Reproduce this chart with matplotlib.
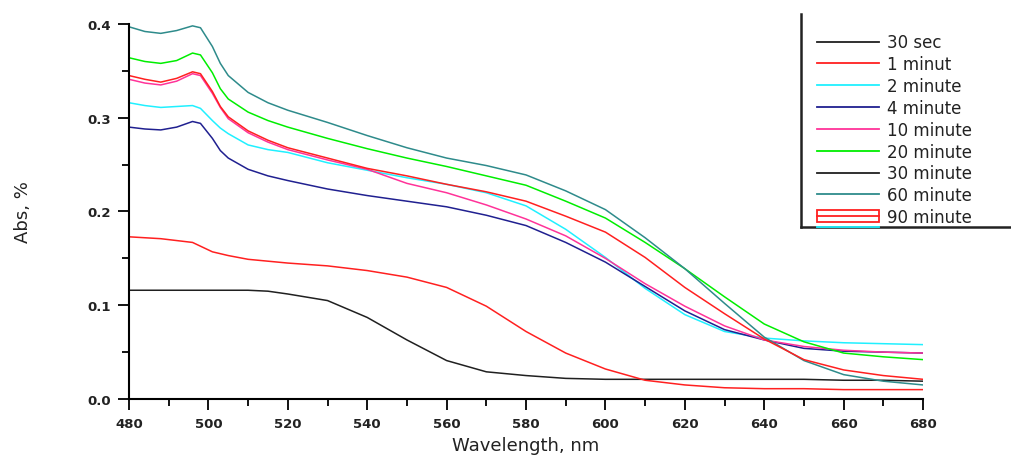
import numpy as np
import matplotlib
matplotlib.use("Agg")
from matplotlib import pyplot as plt
from matplotlib.lines import Line2D
from matplotlib.patches import Rectangle
from matplotlib.ticker import MultipleLocator

# wavelength grid (nm) shared by all spectra
wl = [480, 484, 488, 492, 496, 498, 501, 503, 505, 510, 515, 520, 530, 540, 550,
      560, 570, 580, 590, 600, 610, 620, 630, 640, 650, 660, 670, 680]

abs_30s = [0.116, 0.116, 0.116, 0.116, 0.116, 0.116, 0.116, 0.116, 0.116, 0.116, 0.115, 0.112, 0.105, 0.087, 0.063,
           0.041, 0.029, 0.025, 0.022, 0.021, 0.021, 0.021, 0.021, 0.021, 0.021, 0.020, 0.020, 0.019]
abs_1m = [0.173, 0.172, 0.171, 0.169, 0.167, 0.163, 0.157, 0.155, 0.153, 0.149, 0.147, 0.145, 0.142, 0.137, 0.130,
          0.119, 0.099, 0.072, 0.049, 0.032, 0.020, 0.015, 0.012, 0.011, 0.011, 0.010, 0.010, 0.010]
abs_2m = [0.316, 0.313, 0.311, 0.312, 0.313, 0.310, 0.297, 0.289, 0.283, 0.271, 0.266, 0.263, 0.252, 0.244, 0.236,
          0.229, 0.220, 0.206, 0.181, 0.151, 0.118, 0.090, 0.072, 0.065, 0.062, 0.060, 0.059, 0.058]
abs_4m = [0.290, 0.288, 0.287, 0.290, 0.296, 0.294, 0.278, 0.265, 0.257, 0.245, 0.238, 0.233, 0.224, 0.217, 0.211,
          0.205, 0.196, 0.185, 0.167, 0.146, 0.120, 0.094, 0.074, 0.063, 0.054, 0.051, 0.050, 0.049]
abs_10m = [0.341, 0.337, 0.335, 0.339, 0.347, 0.345, 0.326, 0.311, 0.299, 0.284, 0.274, 0.266, 0.255, 0.245, 0.230,
           0.220, 0.207, 0.192, 0.174, 0.150, 0.123, 0.099, 0.078, 0.063, 0.056, 0.052, 0.050, 0.049]
abs_20m = [0.364, 0.360, 0.358, 0.361, 0.369, 0.367, 0.348, 0.331, 0.320, 0.306, 0.297, 0.290, 0.278, 0.267, 0.257,
           0.248, 0.238, 0.228, 0.211, 0.193, 0.167, 0.139, 0.109, 0.080, 0.061, 0.049, 0.045, 0.042]
abs_60m = [0.397, 0.392, 0.390, 0.393, 0.398, 0.396, 0.376, 0.358, 0.345, 0.327, 0.316, 0.308, 0.295, 0.281, 0.268,
           0.257, 0.249, 0.239, 0.222, 0.202, 0.172, 0.139, 0.102, 0.066, 0.041, 0.026, 0.019, 0.015]
abs_90m = [0.345, 0.341, 0.338, 0.342, 0.349, 0.347, 0.328, 0.312, 0.301, 0.286, 0.276, 0.268, 0.257, 0.246, 0.238,
           0.229, 0.221, 0.211, 0.195, 0.178, 0.151, 0.119, 0.091, 0.064, 0.042, 0.031, 0.025, 0.021]

labels = ["30 sec", "1 minut", "2 minute", "4 minute", "10 minute",
          "20 minute", "30 minute", "60 minute", "90 minute"]
colors = ["#202020", "#ff2020", "#20f0ff", "#202090", "#ff3399",
          "#00ee00", "#202020", "#2e8b8b", "#ff2020"]

txt = "#222222"
fig = plt.figure(figsize=(10.11, 4.56), dpi=100)
ax = fig.add_axes([0.1276, 0.1228, 0.7854, 0.8224])

curves = [abs_30s, abs_1m, abs_2m, abs_4m, abs_10m, abs_20m, None, abs_60m, abs_90m]
for ys, c in zip(curves, colors):
    if ys is None:
        continue
    ax.plot(wl, ys, color=c, lw=1.1)

ax.set_xlim(480, 680)
ax.set_ylim(0, 0.4)
ax.xaxis.set_major_locator(MultipleLocator(20))
ax.xaxis.set_minor_locator(MultipleLocator(10))
ax.yaxis.set_major_locator(MultipleLocator(0.1))
ax.yaxis.set_minor_locator(MultipleLocator(0.05))
ax.yaxis.set_major_formatter(plt.FuncFormatter(lambda v, p: "%.1f" % v))
ax.tick_params(which="major", direction="out", length=8, width=1.3, labelsize=9.5, labelcolor=txt, pad=5)
ax.tick_params(which="minor", direction="out", length=5, width=1.3)
for side in ["top", "right"]:
    ax.spines[side].set_visible(False)
for side in ["left", "bottom"]:
    ax.spines[side].set_linewidth(1.5)
for lab in ax.get_xticklabels() + ax.get_yticklabels():
    lab.set_fontweight("bold")

ax.set_xlabel("Wavelength, nm", fontsize=13, color=txt, labelpad=4)
ax.set_ylabel("Abs, %", fontsize=13, color=txt, labelpad=40)

# legend: handles built by hand, 90 minute has the boxed sample
handles = [Line2D([], [], color=c, lw=1.3) for c in colors[:-1]]
handles.append((Rectangle((0, 0), 1, 1, facecolor="none", edgecolor="#ff2020", lw=1.3),
                Line2D([], [], color="#ff2020", lw=1.3)))
leg = fig.legend(handles, labels, loc="upper left", bbox_to_anchor=(0.802, 0.939),
                 frameon=False, fontsize=12, handlelength=3.7, handletextpad=0.5,
                 labelspacing=0.23, borderaxespad=0)
for t in leg.get_texts():
    t.set_color(txt)

# open legend frame (left and bottom edges)
fig.add_artist(Line2D([0.7925, 0.7925], [0.967, 0.5], transform=fig.transFigure, color="#222222", lw=1.8))
fig.add_artist(Line2D([0.7925, 1.0], [0.5, 0.5], transform=fig.transFigure, color="#222222", lw=1.8))
fig.add_artist(Line2D([0.808, 0.869], [0.5, 0.5], transform=fig.transFigure, color="#20f0ff", lw=1.3))

fig.savefig("out.png", dpi=100)
